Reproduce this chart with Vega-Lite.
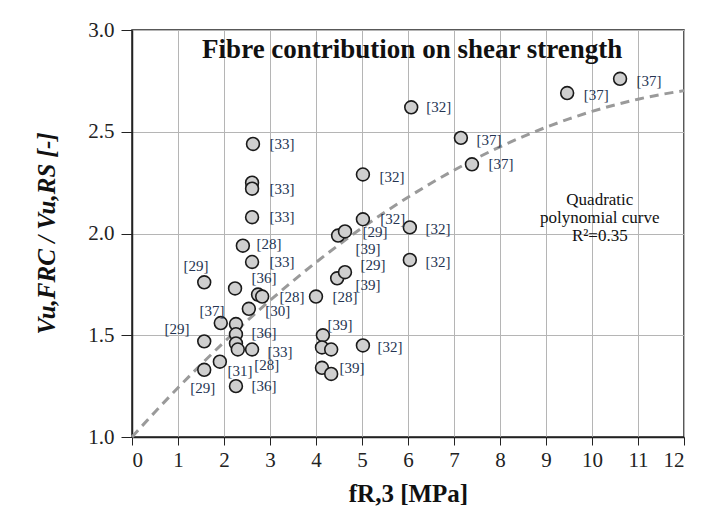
{
  "$schema": "https://vega.github.io/schema/vega-lite/v6.json",
  "autosize": {"type": "none"},
  "width": 552,
  "height": 407,
  "padding": {"left": 132, "top": 30, "right": 37, "bottom": 78},
  "background": "white",
  "config": {
    "font": "Liberation Serif",
    "view": {"stroke": "#222", "strokeWidth": 1.5},
    "axis": {
      "labelFont": "Liberation Serif",
      "labelFontSize": 21,
      "labelColor": "#222",
      "gridColor": "#b5b5b5",
      "gridWidth": 1,
      "domainColor": "#222",
      "domainWidth": 1.5,
      "tickColor": "#222",
      "titleFont": "Liberation Serif",
      "titleColor": "#111"
    }
  },
  "datasets": {
    "points": [
      {"fr3": 2.63, "ratio": 2.44}, {"fr3": 2.61, "ratio": 2.25}, {"fr3": 2.61, "ratio": 2.22},
      {"fr3": 2.61, "ratio": 2.08}, {"fr3": 2.41, "ratio": 1.94}, {"fr3": 2.61, "ratio": 1.86},
      {"fr3": 1.57, "ratio": 1.76}, {"fr3": 2.24, "ratio": 1.73}, {"fr3": 2.74, "ratio": 1.70},
      {"fr3": 2.83, "ratio": 1.69}, {"fr3": 4.0, "ratio": 1.69}, {"fr3": 2.54, "ratio": 1.63},
      {"fr3": 1.93, "ratio": 1.56}, {"fr3": 2.26, "ratio": 1.555}, {"fr3": 2.26, "ratio": 1.505},
      {"fr3": 2.26, "ratio": 1.46}, {"fr3": 1.57, "ratio": 1.47}, {"fr3": 2.30, "ratio": 1.43},
      {"fr3": 2.61, "ratio": 1.43}, {"fr3": 1.91, "ratio": 1.37}, {"fr3": 1.57, "ratio": 1.33},
      {"fr3": 2.26, "ratio": 1.25}, {"fr3": 5.02, "ratio": 2.29}, {"fr3": 5.02, "ratio": 2.07},
      {"fr3": 4.48, "ratio": 1.99}, {"fr3": 4.63, "ratio": 2.01}, {"fr3": 6.04, "ratio": 2.03},
      {"fr3": 6.04, "ratio": 1.87}, {"fr3": 4.46, "ratio": 1.78}, {"fr3": 4.63, "ratio": 1.81},
      {"fr3": 4.15, "ratio": 1.50}, {"fr3": 4.13, "ratio": 1.44}, {"fr3": 4.33, "ratio": 1.43},
      {"fr3": 5.02, "ratio": 1.45}, {"fr3": 4.13, "ratio": 1.34}, {"fr3": 4.33, "ratio": 1.31},
      {"fr3": 6.07, "ratio": 2.62}, {"fr3": 7.15, "ratio": 2.47}, {"fr3": 7.39, "ratio": 2.34},
      {"fr3": 9.46, "ratio": 2.69}, {"fr3": 10.61, "ratio": 2.76}
    ],
    "labels": [
      {"lx": 3.26, "ly": 2.44, "ref": "[33]"}, {"lx": 3.26, "ly": 2.22, "ref": "[33]"},
      {"lx": 3.26, "ly": 2.08, "ref": "[33]"}, {"lx": 2.98, "ly": 1.95, "ref": "[28]"},
      {"lx": 3.26, "ly": 1.86, "ref": "[33]"}, {"lx": 1.39, "ly": 1.84, "ref": "[29]"},
      {"lx": 2.87, "ly": 1.78, "ref": "[36]"}, {"lx": 3.48, "ly": 1.69, "ref": "[28]"},
      {"lx": 4.63, "ly": 1.69, "ref": "[28]"}, {"lx": 3.17, "ly": 1.62, "ref": "[30]"},
      {"lx": 1.74, "ly": 1.62, "ref": "[37]"}, {"lx": 0.98, "ly": 1.53, "ref": "[29]"},
      {"lx": 2.87, "ly": 1.51, "ref": "[36]"}, {"lx": 3.22, "ly": 1.42, "ref": "[33]"},
      {"lx": 2.93, "ly": 1.355, "ref": "[28]"}, {"lx": 2.35, "ly": 1.325, "ref": "[31]"},
      {"lx": 1.54, "ly": 1.24, "ref": "[29]"}, {"lx": 2.87, "ly": 1.25, "ref": "[36]"},
      {"lx": 5.65, "ly": 2.28, "ref": "[32]"}, {"lx": 5.67, "ly": 2.07, "ref": "[32]"},
      {"lx": 5.28, "ly": 2.005, "ref": "[29]"}, {"lx": 5.13, "ly": 1.925, "ref": "[39]"},
      {"lx": 6.65, "ly": 2.02, "ref": "[32]"}, {"lx": 6.65, "ly": 1.86, "ref": "[32]"},
      {"lx": 5.24, "ly": 1.845, "ref": "[29]"}, {"lx": 5.13, "ly": 1.745, "ref": "[39]"},
      {"lx": 4.52, "ly": 1.55, "ref": "[39]"}, {"lx": 5.61, "ly": 1.44, "ref": "[32]"},
      {"lx": 4.78, "ly": 1.34, "ref": "[39]"}, {"lx": 6.67, "ly": 2.62, "ref": "[32]"},
      {"lx": 7.76, "ly": 2.46, "ref": "[37]"}, {"lx": 8.02, "ly": 2.34, "ref": "[37]"},
      {"lx": 10.09, "ly": 2.68, "ref": "[37]"}, {"lx": 11.24, "ly": 2.75, "ref": "[37]"}
    ],
    "curve": [
      {"fr3": 0, "ratio": 1.0}, {"fr3": 0.5, "ratio": 1.123}, {"fr3": 1, "ratio": 1.242},
      {"fr3": 1.5, "ratio": 1.356}, {"fr3": 2, "ratio": 1.466}, {"fr3": 2.5, "ratio": 1.571},
      {"fr3": 3, "ratio": 1.671}, {"fr3": 3.5, "ratio": 1.767}, {"fr3": 4, "ratio": 1.858},
      {"fr3": 4.5, "ratio": 1.945}, {"fr3": 5, "ratio": 2.028}, {"fr3": 5.5, "ratio": 2.105},
      {"fr3": 6, "ratio": 2.178}, {"fr3": 6.5, "ratio": 2.247}, {"fr3": 7, "ratio": 2.311},
      {"fr3": 7.5, "ratio": 2.371}, {"fr3": 8, "ratio": 2.426}, {"fr3": 8.5, "ratio": 2.476},
      {"fr3": 9, "ratio": 2.522}, {"fr3": 9.5, "ratio": 2.563}, {"fr3": 10, "ratio": 2.600},
      {"fr3": 10.5, "ratio": 2.632}, {"fr3": 11, "ratio": 2.660}, {"fr3": 11.5, "ratio": 2.683},
      {"fr3": 12, "ratio": 2.702}
    ],
    "notes": [
      {"nx": 6.09, "ny": 2.9}
    ],
    "fit": [
      {"nx": 10.17, "ny": 2.165}
    ]
  },
  "layer": [
    {
      "data": {"name": "curve"},
      "mark": {"type": "line", "color": "#9a9a9a", "strokeWidth": 3, "strokeDash": [9, 6], "interpolate": "monotone"},
      "encoding": {
        "x": {
          "field": "fr3", "type": "quantitative",
          "scale": {"domain": [0, 12], "nice": false},
          "axis": {
            "values": [0, 1, 2, 3, 4, 5, 6, 7, 8, 9, 10, 11, 12],
            "format": "d",
            "tickSize": 8,
            "labelPadding": 4,
            "title": "fR,3 [MPa]",
            "titleFontSize": 25,
            "titleFontWeight": "bold",
            "titleY": 56,
            "titleBaseline": "middle"
          }
        },
        "y": {
          "field": "ratio", "type": "quantitative",
          "scale": {"domain": [1, 3], "nice": false},
          "axis": {
            "values": [1, 1.5, 2, 2.5, 3],
            "format": ".1f",
            "tickSize": 11,
            "labelPadding": 7,
            "title": "Vu,FRC / Vu,RS [-]",
            "titleFontSize": 25,
            "titleFontWeight": "bold",
            "titleFontStyle": "italic",
            "titleX": -86,
            "titleY": 203,
            "titleAlign": "center",
            "titleBaseline": "middle",
            "titleAngle": -90
          }
        }
      }
    },
    {
      "data": {"name": "points"},
      "mark": {"type": "point", "shape": "circle", "filled": true, "fill": "#cfcfcf", "stroke": "#1a1a1a", "strokeWidth": 1.6, "size": 165, "opacity": 1},
      "encoding": {
        "x": {"field": "fr3", "type": "quantitative"},
        "y": {"field": "ratio", "type": "quantitative"}
      }
    },
    {
      "data": {"name": "labels"},
      "mark": {"type": "text", "font": "Liberation Serif", "fontSize": 15, "color": "#243452", "align": "center", "baseline": "middle"},
      "encoding": {
        "x": {"field": "lx", "type": "quantitative"},
        "y": {"field": "ly", "type": "quantitative"},
        "text": {"field": "ref", "type": "nominal"}
      }
    },
    {
      "data": {"name": "notes"},
      "mark": {"type": "text", "font": "Liberation Serif", "fontSize": 27, "fontWeight": "bold", "color": "#111", "align": "center", "baseline": "middle", "text": "Fibre contribution on shear strength"},
      "encoding": {
        "x": {"field": "nx", "type": "quantitative"},
        "y": {"field": "ny", "type": "quantitative"}
      }
    },
    {
      "data": {"name": "fit"},
      "mark": {"type": "text", "font": "Liberation Serif", "fontSize": 17, "color": "#111", "align": "center", "baseline": "middle", "lineHeight": 18, "text": ["Quadratic", "polynomial curve", "R²=0.35"]},
      "encoding": {
        "x": {"field": "nx", "type": "quantitative"},
        "y": {"field": "ny", "type": "quantitative"}
      }
    }
  ]
}
